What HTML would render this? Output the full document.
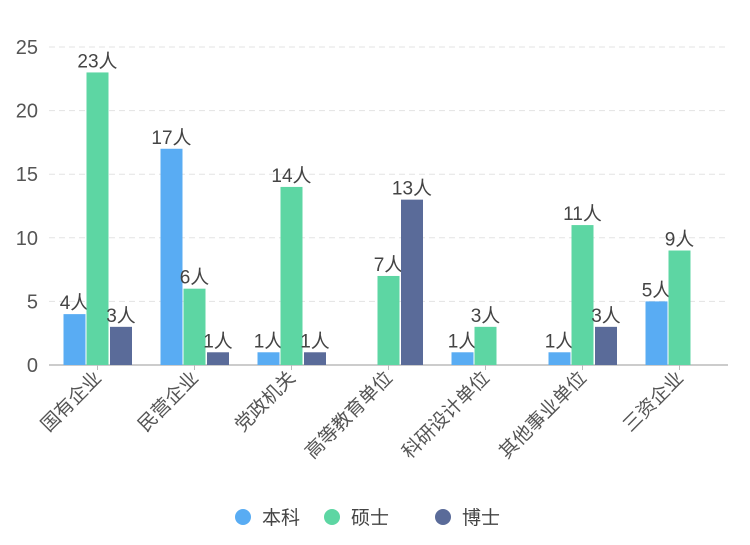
<!DOCTYPE html>
<html><head><meta charset="utf-8"><style>
body{margin:0;background:#fff;}
svg{font-family:"Liberation Sans","Noto Sans CJK SC",sans-serif;}
</style></head><body>
<svg id="chart" width="750" height="540"></svg>
<script>
const categories=["国有企业","民营企业","党政机关","高等教育单位","科研设计单位","其他事业单位","三资企业"];
const seriesNames=["本科","硕士","博士"];
const bachelor=[4,17,1,0,1,1,5];
const master=[23,6,14,7,3,11,9];
const doctor=[3,1,1,13,0,3,0];
const yTicks=[0,5,10,15,20,25];
const colors=["#59acf3","#5dd6a3","#5a6b99"];
const svg=document.getElementById('chart');
const NS="http://www.w3.org/2000/svg";
const x0=49,x1=728,y0=365,yTop=47,yMax=25;
const bw=(x1-x0)/categories.length;
function yS(v){return y0-(v/yMax)*(y0-yTop);}
function xC(i){return x0+bw*(i+0.5);}
function mk(t,a,p){const e=document.createElementNS(NS,t);for(const k in a)e.setAttribute(k,a[k]);(p||svg).appendChild(e);return e;}
yTicks.forEach(t=>{
  if(t>0){const g=mk('line',{x1:x0,x2:x1,y1:yS(t),y2:yS(t),stroke:'#e3e3e3','stroke-dasharray':'6,4'});
  
  }
  const l=mk('text',{x:38,y:yS(t)+7,'text-anchor':'end','font-size':20,fill:'#555'});
  
  
  l.textContent=t;
});
const ax=mk('line',{x1:x0,x2:x1,y1:y0,y2:y0,stroke:'#bbb','stroke-width':1.5});


const series=[bachelor,master,doctor];
const offs=[-34,-11,12.5];
categories.forEach((c,i)=>{
  const cx=xC(i);
  const tk=mk('line',{x1:cx,x2:cx,y1:y0,y2:y0+5,stroke:'#bbb'});
  
  
  const lab=mk('text',{x:cx+5,y:y0+14,'text-anchor':'end','font-size':19,fill:'#555',transform:'rotate(-45 '+(cx+5)+' '+(y0+14)+')'});
  
  
  lab.textContent=c;
  series.forEach((s,k)=>{
    const v=s[i]; if(!v)return;
    const bx=cx+offs[k];
    const r=mk('rect',{x:bx,y:yS(v),width:22,height:y0-yS(v),fill:colors[k]});
    
    
    const t=mk('text',{x:bx+11,y:yS(v)-5,'text-anchor':'middle','font-size':19,fill:'#444'});
    
    
    t.textContent=v+'人';
  });
});
const lx=[243,332,443];
seriesNames.forEach((n,k)=>{
  const g=mk('g',{});
  
  
  mk('circle',{cx:lx[k],cy:517,r:8,fill:colors[k]},g);
  const t=mk('text',{x:lx[k]+19,y:524,'font-size':19,fill:'#444'},g);
  t.textContent=n;
});
</script>
</body></html>
